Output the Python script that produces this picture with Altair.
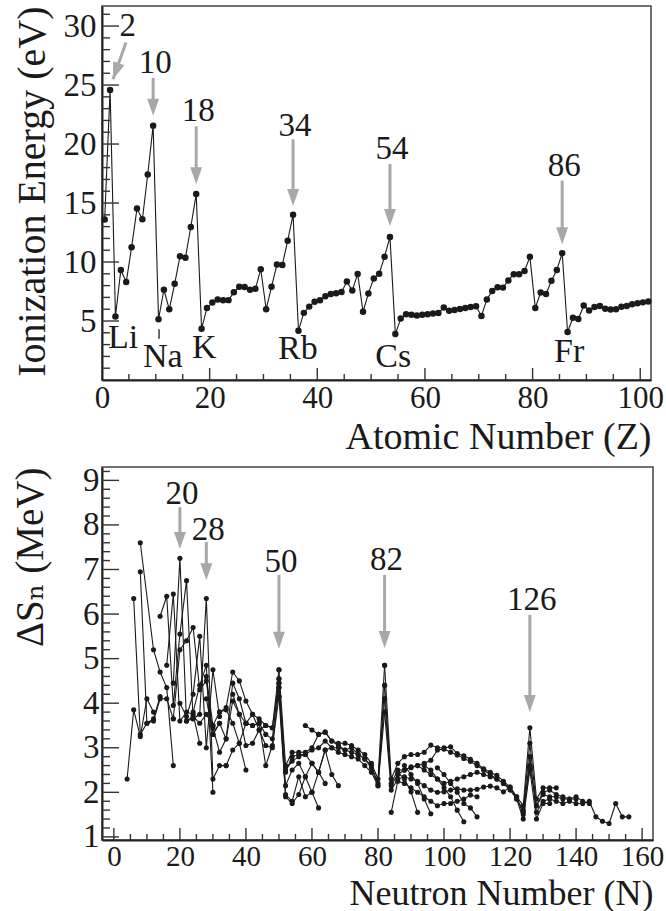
import altair as alt
import pandas as pd

# ---------------- upper panel: first ionization energy ----------------
atomic_number = list(range(1, 103))
ionization_ev = [13.60, 24.59, 5.39, 9.32, 8.30, 11.26, 14.53, 13.62, 17.42, 21.56,
                 5.14, 7.65, 5.99, 8.15, 10.49, 10.36, 12.97, 15.76, 4.34, 6.11,
                 6.56, 6.83, 6.75, 6.77, 7.43, 7.90, 7.88, 7.64, 7.73, 9.39,
                 6.00, 7.90, 9.79, 9.75, 11.81, 14.00, 4.18, 5.69, 6.22, 6.63,
                 6.76, 7.09, 7.28, 7.36, 7.46, 8.34, 7.58, 8.99, 5.79, 7.34,
                 8.61, 9.01, 10.45, 12.13, 3.89, 5.21, 5.58, 5.54, 5.47, 5.53,
                 5.58, 5.64, 5.67, 6.15, 5.86, 5.94, 6.02, 6.11, 6.18, 6.25,
                 5.43, 6.83, 7.55, 7.86, 7.83, 8.44, 8.97, 8.96, 9.23, 10.44,
                 6.11, 7.42, 7.29, 8.41, 9.32, 10.75, 4.07, 5.28, 5.17, 6.31,
                 5.89, 6.19, 6.27, 6.03, 5.97, 5.99, 6.20, 6.28, 6.42, 6.50,
                 6.58, 6.65]

top_arrow_label = ["10", "18", "34", "54", "86"]
top_arrow_z = [10, 18, 36, 54, 86]
top_arrow_top = [25.6, 21.5, 20.4, 18.3, 16.9]
top_arrow_tip = [22.4, 16.6, 14.75, 13.05, 11.5]
top_label_y = [26.0, 21.95, 20.7, 18.7, 17.3]

he_label = ["2"]
he_label_x = [4.8]
he_label_y = [29.15]
he_arrow_x = [4.46]
he_arrow_y = [28.6]
he_arrow_x2 = [2.04]
he_arrow_y2 = [25.5]

alkali_name = ["Li", "Na", "K", "Rb", "Cs", "Fr"]
alkali_x = [3.9, 11.3, 19.0, 36.4, 54.1, 86.8]
alkali_y = [2.71, 1.10, 1.86, 1.78, 1.10, 1.53]
na_mark_x = [10.6]
na_mark_y = [4.3]
na_mark_y2 = [3.5]

# ---------------- lower panel: delta S_n isotope chains ----------------
c01 = ([4, 6, 8, 10, 12], [2.3, 3.85, 3.25, 4.1, 3.8])
c02 = ([6, 8, 10, 12, 14], [6.35, 3.3, 3.55, 3.65, 4.15])
c03 = ([8, 10, 12, 14, 16, 18], [6.95, 3.55, 3.6, 4.1, 4.1, 3.65])
c04 = ([8, 12, 14, 16, 18], [7.6, 5.2, 4.7, 4.35, 2.6])
c05 = ([14, 16, 18, 20, 22, 24], [5.95, 6.4, 3.95, 5.55, 6.75, 3.65])
c06 = ([16, 18, 20, 22, 24, 26], [4.85, 6.45, 3.6, 3.8, 3.75, 3.1])
c07 = ([18, 20, 22, 24, 26, 28, 30], [4.45, 7.25, 3.6, 3.7, 3.55, 3.75, 3.5])
c08 = ([18, 20, 22, 24, 26, 28, 30, 32], [3.65, 5.2, 5.4, 5.7, 4.3, 4.5, 3.3, 3.55])
c09 = ([20, 22, 24, 26, 28, 30, 32], [4.0, 3.7, 4.2, 5.5, 3.0, 4.75, 3.7])
c10 = ([22, 24, 26, 28, 30, 32, 34], [3.6, 3.65, 3.75, 6.35, 2.3, 2.6, 2.6])
c11 = ([24, 26, 28, 30], [3.8, 4.4, 4.85, 2.0])

m01 = ([28, 30, 32, 34, 36, 38, 40, 42, 44, 46, 48, 50],
       [4.6, 3.5, 3.8, 3.9, 4.7, 4.5, 4.05, 3.75, 3.65, 3.5, 3.45, 4.75])
m02 = ([28, 30, 32, 34, 36, 38, 40, 42, 44, 46, 48, 50],
       [4.1, 3.3, 3.55, 3.2, 4.45, 4.1, 3.55, 3.5, 3.55, 3.3, 3.2, 4.55])
m03 = ([30, 32, 34, 36, 38, 40, 42, 44, 46, 48, 50],
       [3.45, 2.9, 3.2, 4.05, 3.75, 3.05, 3.1, 3.4, 3.05, 3.0, 4.35])
m04 = ([32, 34, 36, 38, 40], [3.8, 3.85, 3.55, 3.1, 2.5])
m05 = ([34, 36, 38, 40, 42, 44, 46, 48, 50], [2.6, 2.95, 3.1, 3.55, 3.5, 3.55, 2.6, 3.05, 4.15])
m06 = ([36, 38, 40, 42, 44, 46, 48, 50], [4.2, 3.75, 3.55, 3.75, 3.4, 3.5, 3.45, 4.45])

p01 = ([50, 52, 54, 56, 58, 60, 62, 64, 66, 68, 70, 72, 74, 76, 78, 80, 82],
       [4.75, 2.6, 2.9, 2.9, 2.9, 3.0, 3.3, 3.35, 3.15, 3.1, 3.1, 3.05, 2.95, 2.85, 2.65, 2.3, 4.85])
p02 = ([50, 52, 54, 56, 58, 60, 62, 64, 66, 68, 70, 72, 74, 76, 78, 80, 82],
       [4.55, 2.45, 2.8, 2.85, 2.85, 2.95, 3.0, 3.15, 3.0, 3.0, 2.95, 2.9, 2.85, 2.75, 2.6, 2.2, 4.4])
p03 = ([50, 52, 54, 56, 58, 60, 62, 64, 66, 68, 70, 72, 74, 76, 78, 80, 82],
       [4.35, 2.15, 2.5, 2.65, 2.35, 2.65, 2.45, 2.95, 3.0, 2.9, 2.85, 2.8, 2.75, 2.6, 2.45, 2.15, 4.1])
p04 = ([50, 52, 54, 56, 58, 60, 62], [4.15, 1.95, 1.8, 2.35, 1.9, 2.0, 1.65])
p05 = ([50, 52, 54, 56, 58, 60, 62, 64], [4.45, 1.9, 1.75, 1.95, 2.35, 2.0, 2.45, 2.2])
p06 = ([58, 60, 62, 64, 66, 68, 70, 72, 74, 76, 78, 80, 82],
       [3.5, 3.4, 3.3, 3.35, 3.15, 3.05, 2.95, 3.0, 2.85, 2.75, 2.55, 2.15, 3.8])
p07 = ([52, 54, 56, 58, 60, 62, 64, 66, 68], [2.5, 2.7, 2.8, 2.85, 2.65, 2.45, 2.95, 2.4, 2.15])

q01 = ([82, 84, 86, 88, 90, 92, 94, 96, 98, 100, 102, 104, 106, 108, 110, 112, 114, 116, 118,
        120, 122, 124, 126, 128, 130, 132, 134],
       [4.85, 2.3, 2.65, 2.8, 2.85, 2.85, 2.9, 3.06, 3.0, 3.0, 3.02, 2.87, 2.82, 2.74, 2.65, 2.53,
        2.45, 2.38, 2.25, 2.12, 1.9, 1.7, 3.45, 1.85, 2.1, 2.1, 2.1])
q02 = ([82, 84, 86, 88, 90, 92, 94, 96, 98, 100, 102, 104, 106, 108, 110, 112, 114, 116, 118,
        120, 122, 124, 126, 128, 130, 132, 134, 136, 138, 140],
       [4.4, 2.2, 2.5, 2.5, 2.57, 2.6, 2.65, 2.72, 2.95, 2.97, 2.9, 2.84, 2.76, 2.69, 2.6, 2.5,
        2.4, 2.3, 2.2, 2.05, 1.85, 1.6, 3.1, 1.7, 1.95, 1.9, 1.9, 1.85, 1.85, 1.85])
q03 = ([82, 84, 86, 88, 90, 92, 94, 96, 98, 100, 102, 104, 106, 108, 110, 112, 114, 116, 118,
        120, 122, 124, 126, 128, 130, 132, 134, 136, 138, 140, 142, 144, 146, 148, 150, 152,
        154, 156],
       [4.1, 2.15, 2.4, 2.5, 2.55, 2.6, 2.5, 2.4, 2.3, 2.2, 2.25, 2.3, 2.35, 2.4, 2.45, 2.4,
        2.35, 2.3, 2.2, 2.1, 1.9, 1.5, 2.8, 1.55, 1.8, 1.85, 1.8, 1.75, 1.8, 1.75, 1.75, 1.8,
        1.45, 1.35, 1.3, 1.75, 1.45, 1.45])
q04 = ([82, 84, 86, 88, 90, 92, 94, 96, 98, 100, 102, 104, 106, 108, 110, 112, 114, 116, 118,
        120, 122, 124, 126, 128, 130, 132],
       [3.8, 2.05, 2.3, 2.35, 2.3, 2.25, 2.15, 2.05, 2.0, 2.01, 2.05, 2.08, 2.05, 2.05, 2.07,
        2.12, 2.14, 2.1, 2.01, 2.12, 1.85, 1.4, 2.5, 1.4, 1.75, 1.75])
q05 = ([84, 86, 88, 90, 92, 94, 96, 98, 100, 102, 104, 106, 108, 110],
       [1.55, 2.25, 2.2, 2.1, 2.0, 1.9, 1.8, 1.7, 1.75, 1.75, 1.8, 1.85, 1.94, 1.9])
q06 = ([86, 88, 90, 92], [2.45, 2.3, 2.01, 1.55])
q07 = ([88, 90, 92, 94, 96], [2.6, 2.4, 2.2, 1.85, 1.52])
q08 = ([94, 96, 98, 100, 102, 104, 106], [2.6, 2.5, 2.3, 2.1, 1.9, 1.6, 1.34])
q09 = ([98, 100, 102, 104, 106, 108, 110], [2.55, 2.4, 2.2, 2.0, 1.75, 1.65, 1.45])
q10 = ([124, 126, 128, 130, 132, 134, 136, 138, 140, 142, 144],
       [1.55, 2.6, 1.7, 2.0, 2.05, 1.95, 1.9, 1.85, 1.9, 1.8, 1.75])

bottom_arrow_label = ["20", "28", "50", "82", "126"]
bottom_arrow_n = [20, 28, 50, 82, 126]
bottom_arrow_top = [8.40, 7.62, 6.88, 6.88, 5.98]
bottom_arrow_tip = [7.46, 6.76, 5.22, 5.24, 3.80]
bottom_label_y = [8.47, 7.66, 6.94, 6.99, 6.09]

# ---------------- styling ----------------
FONT = "Liberation Serif, Times New Roman, DejaVu Serif, serif"
INK = "#1a1a1a"
ARROW = "#a8a8a8"
HEAD = "M0,0L-0.7,-2L0.7,-2Z"

TOP_W, TOP_H = 549, 374
BOT_W, BOT_H = 551, 373

top_xs = alt.Scale(domain=[0, 102], nice=False, zero=False)
top_ys = alt.Scale(domain=[0, 31.7], nice=False, zero=False)
bot_xs = alt.Scale(domain=[-3.6, 163.3], nice=False, zero=False)
bot_ys = alt.Scale(domain=[0.93, 9.3], nice=False, zero=False)

top_x_axis = alt.Axis(values=[0, 20, 40, 60, 80, 100], title="Atomic Number (Z)",
                      titleAnchor="end", titleBaseline="alphabetic", titleY=68,
                      titleFontSize=38, labelPadding=3, labelFontSize=31)
top_y_axis = alt.Axis(values=[5, 10, 15, 20, 25, 30], title="Ionization Energy (eV)",
                      titleAnchor="end", titleBaseline="alphabetic", titleX=-58,
                      titleFontSize=40, labelPadding=6)
bot_x_axis = alt.Axis(values=list(range(0, 161, 20)), title="Neutron Number (N)",
                      titleAnchor="end", titleBaseline="alphabetic", titleY=64,
                      titleFontSize=36, labelPadding=2, labelFontSize=29)
bot_y_axis = alt.Axis(values=list(range(1, 10)), title="ΔSₙ (MeV)",
                      titleAnchor="end", titleBaseline="alphabetic", titleX=-60,
                      labelPadding=3)


def TX(f):
    return alt.X(f"{f}:Q", scale=top_xs, axis=top_x_axis)


def TY(f):
    return alt.Y(f"{f}:Q", scale=top_ys, axis=top_y_axis)


def BX(f):
    return alt.X(f"{f}:Q", scale=bot_xs, axis=bot_x_axis)


def BY(f):
    return alt.Y(f"{f}:Q", scale=bot_ys, axis=bot_y_axis)


def tick_layers(xmaj, xmin, ymaj, ymin, xenc, yenc, h):
    out = []
    for vals, ln in ((ymaj, 17), (ymin, 8)):
        out.append(alt.Chart(pd.DataFrame({"t": vals})).mark_rule(color="#333", strokeWidth=1.4)
                   .encode(y=yenc("t"), x=alt.value(0), x2=alt.value(ln)))
    for vals, ln in ((xmaj, 12), (xmin, 6)):
        out.append(alt.Chart(pd.DataFrame({"t": vals})).mark_rule(color="#333", strokeWidth=1.4)
                   .encode(x=xenc("t"), y=alt.value(h), y2=alt.value(h - ln)))
    return out


# ---------------- upper chart ----------------
ie_df = pd.DataFrame({"Z": atomic_number, "IE": ionization_ev})
ie_base = alt.Chart(ie_df).transform_calculate(zc="datum.Z - 0.5")
ie_line = ie_base.mark_line(color=INK, strokeWidth=1.1).encode(x=TX("zc"), y=TY("IE"))
ie_pts = ie_base.mark_circle(color=INK, size=42, opacity=1).encode(x=TX("zc"), y=TY("IE"))

ta_df = pd.DataFrame({"lab": top_arrow_label, "Z": top_arrow_z, "top": top_arrow_top,
                      "tip": top_arrow_tip, "ly": top_label_y})
ta_base = alt.Chart(ta_df).transform_calculate(zc="datum.Z - 0.5", shaft="datum.tip + 1.2")
ta_shaft = ta_base.mark_rule(color=ARROW, strokeWidth=3).encode(
    x=TX("zc"), y=TY("top"), y2=alt.Y2("shaft:Q"))
ta_head = ta_base.mark_point(shape=HEAD, filled=True, size=289, color=ARROW, opacity=1,
                             strokeWidth=0).encode(x=TX("zc"), y=TY("tip"))
ta_text = ta_base.mark_text(font=FONT, fontSize=33, color=INK, baseline="alphabetic",
                            align="center", dx=2).encode(x=TX("zc"), y=TY("ly"), text="lab:N")

he_df = pd.DataFrame({"lab": he_label, "lx": he_label_x, "ly": he_label_y,
                      "x0": he_arrow_x, "y0": he_arrow_y, "x1": he_arrow_x2, "y1": he_arrow_y2})
he_shaft = alt.Chart(he_df).mark_rule(color=ARROW, strokeWidth=3).encode(
    x=TX("x0"), y=TY("y0"), x2=alt.X2("x1:Q"), y2=alt.Y2("y1:Q"))
he_head = alt.Chart(he_df).mark_point(shape=HEAD, filled=True, size=289, color=ARROW,
                                      opacity=1, strokeWidth=0, angle=20).encode(
    x=TX("x1"), y=TY("y1"))
he_text = alt.Chart(he_df).mark_text(font=FONT, fontSize=33, color=INK, baseline="alphabetic",
                                     align="center").encode(x=TX("lx"), y=TY("ly"), text="lab:N")

alk_df = pd.DataFrame({"name": alkali_name, "x": alkali_x, "y": alkali_y})
alk_text = alt.Chart(alk_df).mark_text(font=FONT, fontSize=34, color=INK, baseline="alphabetic",
                                       align="center").encode(x=TX("x"), y=TY("y"), text="name:N")
na_df = pd.DataFrame({"x": na_mark_x, "y": na_mark_y, "y2": na_mark_y2})
na_rule = alt.Chart(na_df).mark_rule(color=INK, strokeWidth=1.3).encode(
    x=TX("x"), y=TY("y"), y2=alt.Y2("y2:Q"))

top_ticks = tick_layers([20, 40, 60, 80, 100],
                        [v for v in range(5, 101, 5) if v % 20],
                        [5, 10, 15, 20, 25, 30],
                        [v for v in range(1, 32) if v % 5],
                        TX, TY, TOP_H)

top = alt.layer(ie_line, *top_ticks, ta_shaft, ta_head, ta_text, he_shaft, he_head, he_text,
                alk_text, na_rule, ie_pts).properties(width=TOP_W, height=TOP_H)

# ---------------- lower chart ----------------
chains = {"c01": c01, "c02": c02, "c03": c03, "c04": c04, "c05": c05, "c06": c06, "c07": c07,
          "c08": c08, "c09": c09, "c10": c10, "c11": c11, "m01": m01, "m02": m02, "m03": m03,
          "m04": m04, "m05": m05, "m06": m06, "p01": p01, "p02": p02, "p03": p03, "p04": p04,
          "p05": p05, "p06": p06, "p07": p07, "q01": q01, "q02": q02, "q03": q03, "q04": q04,
          "q05": q05, "q06": q06, "q07": q07, "q08": q08, "q09": q09, "q10": q10}
rows = []
for key, (ns, vs) in chains.items():
    for n, v in zip(ns, vs):
        rows.append({"chain": key, "N": n, "dS": v})
sn_df = pd.DataFrame(rows)

sn_line = alt.Chart(sn_df).mark_line(color=INK, strokeWidth=1.1).encode(
    x=BX("N"), y=BY("dS"), detail="chain:N", order="N:Q")
sn_pts = alt.Chart(sn_df).mark_circle(color=INK, size=26, opacity=1).encode(x=BX("N"), y=BY("dS"))

ba_df = pd.DataFrame({"lab": bottom_arrow_label, "N": bottom_arrow_n, "top": bottom_arrow_top,
                      "tip": bottom_arrow_tip, "ly": bottom_label_y})
ba_base = alt.Chart(ba_df).transform_calculate(shaft="datum.tip + 0.3")
ba_shaft = ba_base.mark_rule(color=ARROW, strokeWidth=3).encode(
    x=BX("N"), y=BY("top"), y2=alt.Y2("shaft:Q"))
ba_head = ba_base.mark_point(shape=HEAD, filled=True, size=289, color=ARROW, opacity=1,
                             strokeWidth=0).encode(x=BX("N"), y=BY("tip"))
ba_text = ba_base.mark_text(font=FONT, fontSize=33, color=INK, baseline="alphabetic",
                            align="center", dx=2).encode(x=BX("N"), y=BY("ly"), text="lab:N")

bot_ticks = tick_layers(list(range(0, 161, 20)),
                        [v for v in range(5, 160, 5) if v % 20],
                        list(range(1, 10)),
                        [round(1 + 0.2 * i, 1) for i in range(1, 42) if i % 5],
                        BX, BY, BOT_H)

bottom = alt.layer(sn_line, *bot_ticks, ba_shaft, ba_head, ba_text, sn_pts).properties(
    width=BOT_W, height=BOT_H)

chart = alt.vconcat(top, bottom, spacing=6).properties(
    padding={"left": 10, "top": 5, "right": 0, "bottom": 0}
).configure_view(stroke="#444", strokeWidth=1.5).configure_axis(
    labelFont=FONT, labelFontSize=33, labelColor=INK, labelFlush=False, labelOverlap=False,
    titleFont=FONT, titleFontSize=39, titleFontWeight="normal", titleColor=INK,
    domainColor="#222", domainWidth=2, ticks=False, tickSize=0, grid=False
)

chart.save("out.html", embed_options={"renderer": "svg", "actions": False})
